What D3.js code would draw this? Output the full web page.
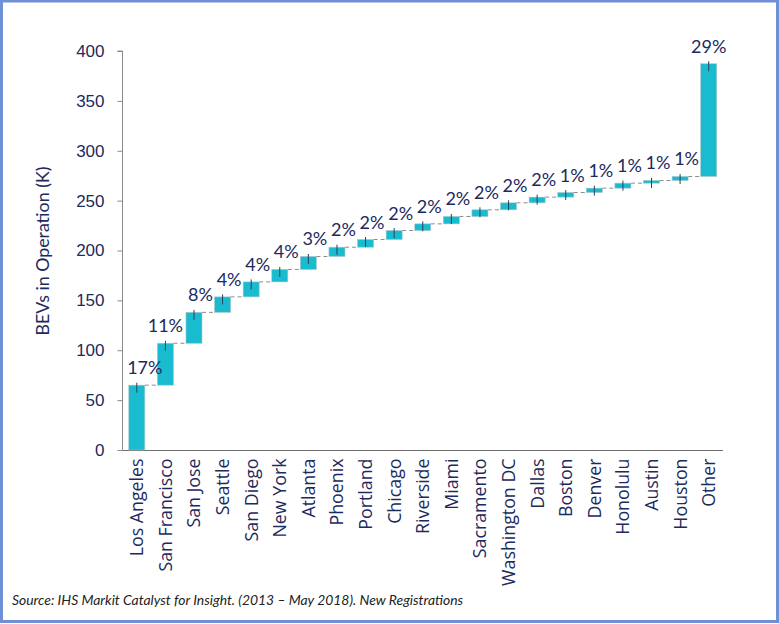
<!DOCTYPE html>
<html>
<head>
<meta charset="utf-8">
<script src="https://cdn.jsdelivr.net/npm/d3@7"></script>
<style>
  html, body { margin: 0; padding: 0; background: #fff; }
  svg { display: block; }
</style>
</head>
<body>
<svg id="chart" width="779" height="624"></svg>
<script>
// ---- data ----
const categories = ["Los Angeles","San Francisco","San Jose","Seattle","San Diego","New York","Atlanta","Phoenix","Portland","Chicago","Riverside","Miami","Sacramento","Washington DC","Dallas","Boston","Denver","Honolulu","Austin","Houston","Other"];
const increments = [65, 42, 31, 15.5, 15, 12.5, 13, 9.3, 7.7, 9, 6.7, 7.4, 6.7, 7, 5.7, 4.6, 4.4, 5, 2.7, 4, 113];
const pctLabels = ["17%","11%","8%","4%","4%","4%","3%","2%","2%","2%","2%","2%","2%","2%","2%","1%","1%","1%","1%","1%","29%"];
const yTicks = [0, 50, 100, 150, 200, 250, 300, 350, 400];
const yTitle = "BEVs in Operation (K)";
const sourceText = "Source: IHS Markit Catalyst for Insight. (2013 \u2013 May 2018). New Registrations";

// cumulative table for the waterfall
let run = 0;
const rows = categories.map((c, i) => {
  const start = run;
  run += increments[i];
  return { cat: c, start: start, end: run, label: pctLabels[i] };
});

const navy = "#1c2a5e";
const svg = d3.select("#chart");

// frame
svg.append("rect").attr("x", 1.5).attr("y", 1).attr("width", 776).attr("height", 620.5)
  .attr("fill", "#fff").attr("stroke", "#6f8fd6").attr("stroke-width", 3);

const x = d3.scaleBand().domain(categories).range([122.5, 723]).paddingInner(0.44).paddingOuter(0.22);
const y = d3.scaleLinear().domain([0, 400]).range([450, 51]);

// y axis
const yAxis = svg.append("g").attr("transform", "translate(122.5,0)")
  .call(d3.axisLeft(y).tickValues(yTicks).tickSize(5).tickPadding(13));
yAxis.select(".domain").attr("stroke", "#8a8a8a").attr("d", "M-5," + y(400) + "H0V" + y(0));
yAxis.selectAll(".tick line").attr("stroke", "#8a8a8a");
yAxis.selectAll(".tick text").attr("fill", navy)
  .style("font-family", "'Liberation Sans', Arial, sans-serif").style("font-size", "17px");

// x axis
const xAxis = svg.append("g").attr("transform", "translate(0,450.5)")
  .call(d3.axisBottom(x).tickSize(0).tickPadding(0));
xAxis.select(".domain").attr("stroke", "#6e6e6e").attr("d", "M122.5,0H723");
xAxis.selectAll(".tick text")
  .attr("transform", "rotate(-90)")
  .attr("text-anchor", "end")
  .attr("x", -8).attr("y", 0).attr("dy", "0.36em")
  .attr("fill", navy)
  .style("font-family", "'Open Sans', Lato, sans-serif").style("font-size", "17.8px");

// y title
svg.append("text")
  .attr("transform", "translate(49,251) rotate(-90)")
  .attr("text-anchor", "middle")
  .attr("fill", navy)
  .style("font-family", "Lato, 'Open Sans', sans-serif").style("font-size", "17.8px")
  .text(yTitle);

// connectors
svg.append("g").selectAll("line").data(rows.slice(0, -1)).join("line")
  .attr("x1", (d, i) => x(d.cat) + x.bandwidth())
  .attr("x2", (d, i) => x(categories[i + 1]))
  .attr("y1", d => y(d.end)).attr("y2", d => y(d.end))
  .attr("stroke", "#8c8c8c").attr("stroke-width", 1).attr("stroke-dasharray", "4,3");

// bars
svg.append("g").selectAll("rect").data(rows).join("rect")
  .attr("x", d => x(d.cat))
  .attr("width", x.bandwidth())
  .attr("y", d => y(d.end))
  .attr("height", d => y(d.start) - y(d.end))
  .attr("fill", "#19bccf")
  .attr("stroke", "#a9c4c8").attr("stroke-width", 0.6);

// small marker lines at top of each bar
svg.append("g").selectAll("line").data(rows).join("line")
  .attr("x1", d => x(d.cat) + x.bandwidth() / 2)
  .attr("x2", d => x(d.cat) + x.bandwidth() / 2)
  .attr("y1", d => y(d.end) - 2.5)
  .attr("y2", d => y(d.end) + 7.5)
  .attr("stroke", "#2b3f63").attr("stroke-width", 1);

// percent labels (in the original most labels sit slightly right of the bar centre)
const centeredLabels = new Set(["San Francisco", "Other"]);
svg.append("g").selectAll("text").data(rows).join("text")
  .attr("x", d => x(d.cat) + x.bandwidth() / 2)
  .attr("dx", d => centeredLabels.has(d.cat) ? 0 : (d.cat === "Los Angeles" ? 8 : 6.5))
  .attr("y", d => y(d.end) - 11)
  .attr("text-anchor", "middle")
  .attr("fill", navy)
  .style("font-family", "Lato, 'Open Sans', sans-serif").style("font-size", "18px")
  .text(d => d.label);

// source
svg.append("text")
  .attr("x", 12).attr("y", 605)
  .attr("fill", "#222")
  .style("font-family", "Lato, 'Open Sans', sans-serif").style("font-style", "italic").style("font-size", "13.9px")
  .text(sourceText);
</script>
</body>
</html>
